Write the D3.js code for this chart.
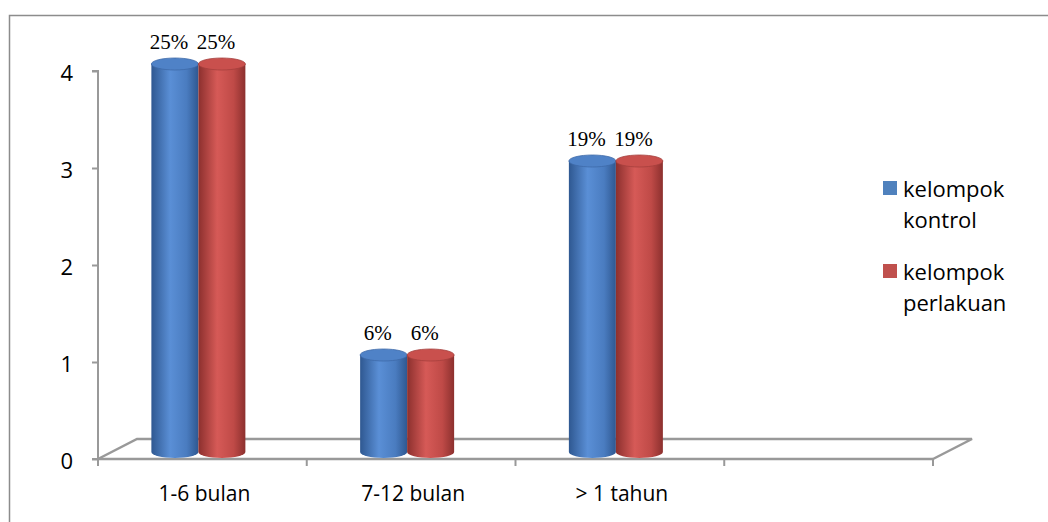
<!DOCTYPE html>
<html>
<head>
<meta charset="utf-8">
<script src="https://cdn.jsdelivr.net/npm/d3@7"></script>
<style>
  html, body { margin: 0; padding: 0; background: #fff; }
  svg { display: block; }
</style>
</head>
<body>
<svg id="chart" width="1048" height="522"></svg>
<script>
// Data
const categories = ["1-6 bulan", "7-12 bulan", "> 1 tahun", ""];
const kontrol = [4, 1, 3, null];
const perlakuan = [4, 1, 3, null];
const kontrolLabels = ["25%", "6%", "19%", null];
const perlakuanLabels = ["25%", "6%", "19%", null];
const seriesNames = [["kelompok", "kontrol"], ["kelompok", "perlakuan"]];
const yTicks = [0, 1, 2, 3, 4];

const sans = "'Open Sans', 'Noto Sans', sans-serif";
const svg = d3.select("#chart");
const defs = svg.append("defs");

// Outer frame (left and top edges visible)
svg.append("path")
  .attr("d", "M9.5,522 L9.5,15.5 L1048,15.5")
  .attr("fill", "none").attr("stroke", "#8c8c8c").attr("stroke-width", 1.5);

const x0 = 98, x1 = 933, yBase = 459;
const depthX = 39, depthY = -20;

const x = d3.scaleBand().domain(d3.range(categories.length)).range([x0, x1]);
const y = d3.scaleLinear().domain([0, 4]).range([yBase, 71]);

// 3D floor
svg.append("path")
  .attr("d", `M${x0},${yBase} L${x0 + depthX},${yBase + depthY} L${x1 + depthX},${yBase + depthY} L${x1},${yBase}`)
  .attr("fill", "none").attr("stroke", "#999").attr("stroke-width", 2.5);

// Y axis
const yAxis = d3.axisLeft(y).tickValues(yTicks).tickSize(6).tickFormat(d3.format("d"));
const gy = svg.append("g").attr("transform", `translate(${x0},0)`).call(yAxis);
gy.select(".domain").attr("stroke", "#999").attr("stroke-width", 2).attr("d", `M-6,${y(4)}H0V${yBase}H-6`);
gy.selectAll(".tick line").attr("stroke", "#999").attr("stroke-width", 2);
gy.selectAll(".tick text").attr("font-family", sans)
  .attr("font-size", 22).attr("fill", "#000").attr("x", -25).attr("dy", "0.42em");

// X axis
const gx = svg.append("g").attr("transform", `translate(0,${yBase})`);
gx.append("line").attr("x1", x0).attr("x2", x1).attr("stroke", "#999").attr("stroke-width", 2.5);
d3.range(categories.length + 1).forEach(i => {
  const xx = x0 + i * x.step();
  gx.append("line").attr("x1", xx).attr("x2", xx).attr("y1", 0).attr("y2", 7)
    .attr("stroke", "#999").attr("stroke-width", 2);
});
gx.selectAll("text.cat").data(categories).join("text")
  .attr("class", "cat")
  .attr("x", (d, i) => x(i) + x.bandwidth() / 2 + 2)
  .attr("y", 42)
  .attr("text-anchor", "middle")
  .attr("font-family", sans)
  .attr("font-size", 21).attr("fill", "#000")
  .text(d => d);

// Cylinder gradients
function cylGrad(id, dark, mid, light) {
  const g = defs.append("linearGradient").attr("id", id).attr("x1", 0).attr("x2", 1).attr("y1", 0).attr("y2", 0);
  g.append("stop").attr("offset", "0%").attr("stop-color", dark);
  g.append("stop").attr("offset", "40%").attr("stop-color", light);
  g.append("stop").attr("offset", "75%").attr("stop-color", mid);
  g.append("stop").attr("offset", "100%").attr("stop-color", dark);
}
cylGrad("gBlue", "#2f5891", "#4a7cc0", "#5a8fd6");
cylGrad("gRed", "#8c302e", "#bf4a47", "#d65a57");

const series = [
  { values: kontrol, labels: kontrolLabels, grad: "gBlue", top: "#4f82c7", topEdge: "#3d6aa8", color: "#4f81bd" },
  { values: perlakuan, labels: perlakuanLabels, grad: "gRed", top: "#c9504d", topEdge: "#a43f3c", color: "#c0504d" }
];

const barW = 47, ry = 6, floorOff = 7;
series.forEach((s, si) => {
  s.values.forEach((v, i) => {
    if (v == null) return;
    const cx = x(i) + x.bandwidth() / 2 - 4 + (si - 0.5) * barW;
    const left = cx - barW / 2;
    const yb = yBase - floorOff;
    const yt = y(v) - floorOff;
    const g = svg.append("g");
    g.append("path")
      .attr("d", `M${left},${yt} L${left},${yb} A${barW / 2},${ry} 0 0 0 ${left + barW},${yb} L${left + barW},${yt} Z`)
      .attr("fill", `url(#${s.grad})`);
    g.append("ellipse")
      .attr("cx", cx).attr("cy", yt).attr("rx", barW / 2).attr("ry", ry)
      .attr("fill", s.top).attr("stroke", s.topEdge).attr("stroke-width", 0.8);
    svg.append("text")
      .attr("x", cx - 6).attr("y", yt - ry - 9)
      .attr("text-anchor", "middle")
      .attr("font-family", "'Liberation Serif', 'Times New Roman', serif")
      .attr("font-size", 21).attr("fill", "#000")
      .text(s.labels[i]);
  });
});

// Legend
const legend = svg.append("g");
series.forEach((s, si) => {
  const ly = 181 + si * 83;
  legend.append("rect").attr("x", 883).attr("y", ly).attr("width", 14).attr("height", 14).attr("fill", s.color);
  seriesNames[si].forEach((line, li) => {
    legend.append("text")
      .attr("x", 903).attr("y", ly + 16 + li * 31)
      .attr("font-family", sans)
      .attr("font-size", 22).attr("fill", "#000")
      .text(line);
  });
});
</script>
</body>
</html>
